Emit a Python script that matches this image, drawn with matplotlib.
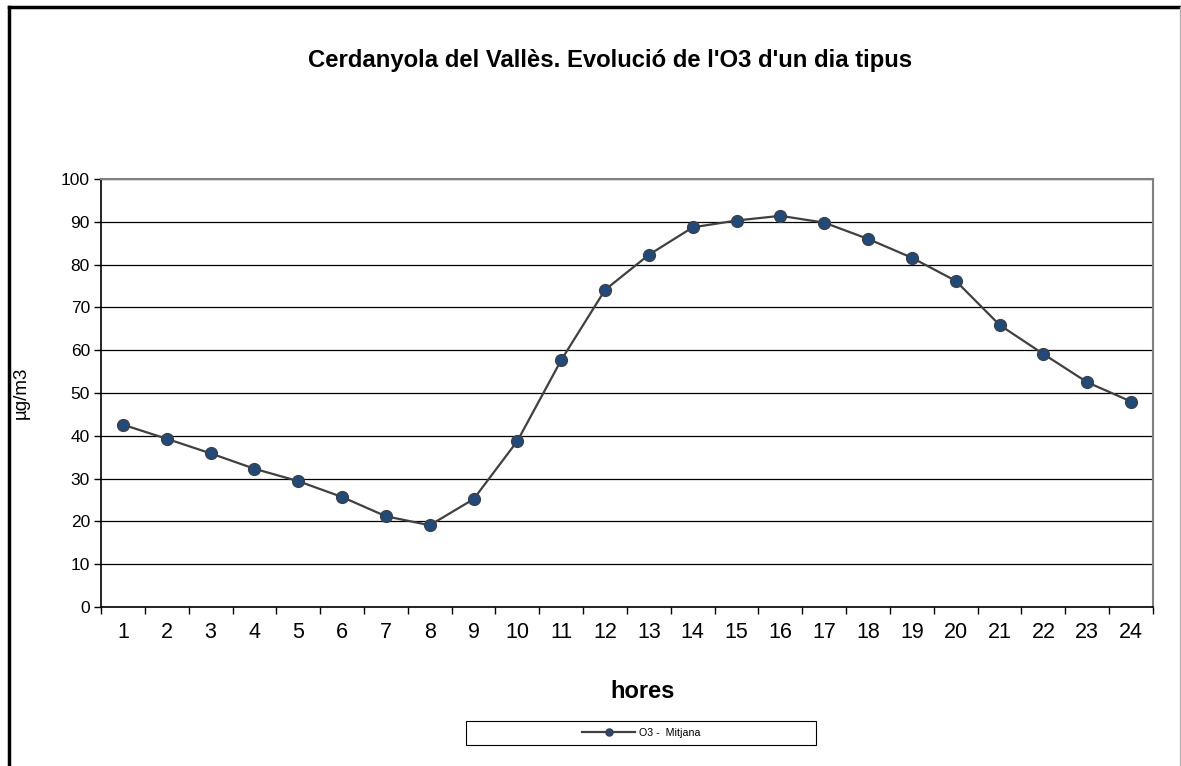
import matplotlib
matplotlib.use("Agg")
import matplotlib.pyplot as plt
from matplotlib.lines import Line2D
from matplotlib.patches import Rectangle
from matplotlib.ticker import FixedLocator

plt.rcParams['font.family'] = ['Liberation Sans', 'DejaVu Sans']

# dades: mitjana horaria d'O3
hores = list(range(1, 25))
o3_mitjana = [42.6, 39.3, 35.9, 32.3, 29.4, 25.7, 21.2, 19.1, 25.2, 38.8, 57.7, 74.1,
              82.3, 88.7, 90.3, 91.4, 89.8, 86.0, 81.6, 76.2, 65.9, 59.1, 52.5, 48.0]
y_ticks = list(range(0, 101, 10))

fig = plt.figure(figsize=(11.81, 7.66), dpi=100)
ax = fig.add_axes([101/1181, 1-607/766, 1052/1181, 428/766])

# posicions de categoria (centrades entre marques)
x = [h - 0.5 for h in hores]
ax.plot(x, o3_mitjana, color='#404040', lw=1.6, marker='o', markersize=8.5,
        markerfacecolor='#1F4A7E', markeredgecolor='#404040', markeredgewidth=1.0,
        zorder=3, label='O3 -  Mitjana')

ax.set_xlim(0, len(hores))
ax.set_ylim(0, 100)
ax.set_yticks(y_ticks)
ax.yaxis.grid(True, color='black', lw=0.9)
ax.set_axisbelow(True)

ax.set_xticks(x)
ax.set_xticklabels([str(h) for h in hores])
ax.xaxis.set_minor_locator(FixedLocator(range(0, len(hores)+1)))
ax.tick_params(axis='x', which='major', length=0, pad=11, labelsize=15.5)
ax.tick_params(axis='x', which='minor', length=5, width=1, direction='out')
ax.tick_params(axis='y', length=5, width=1, direction='out', labelsize=12.5, pad=3)

for s in ['top', 'right']:
    ax.spines[s].set_color('#808080')
    ax.spines[s].set_linewidth(1.5)
for s in ['left', 'bottom']:
    ax.spines[s].set_color('black')
    ax.spines[s].set_linewidth(1.2)

ax.set_ylabel('µg/m3', fontsize=13.5)
ax.yaxis.set_label_coords((30-101)/1052, 0.5)

fig.text(610/1181, 1-60/766, "Cerdanyola del Vallès. Evolució de l'O3 d'un dia tipus",
         ha='center', va='center', fontsize=17.2, fontweight='bold')
fig.text(643/1181, 1-692/766, 'hores', ha='center', va='center', fontsize=17, fontweight='bold')

# caixa de la llegenda
fig.patches.append(Rectangle((466/1181, 1-745/766), 350/1181, 24/766, transform=fig.transFigure,
                             fill=False, edgecolor='black', lw=0.8))
fig.legend(loc='center', bbox_to_anchor=(641/1181, 1-733/766), frameon=False,
           fontsize=7.7, handlelength=5, handletextpad=0.3, markerscale=0.6)

# marc exterior
fig.lines.append(Line2D([9/1181, 9/1181], [0, 1-7/766], transform=fig.transFigure, color='black', lw=2.5))
fig.lines.append(Line2D([9/1181, 1], [1-7/766, 1-7/766], transform=fig.transFigure, color='black', lw=2.5))
fig.lines.append(Line2D([1180/1181, 1180/1181], [0, 1-7/766], transform=fig.transFigure, color='#b0b0b0', lw=1))

fig.savefig('out.png', dpi=100)
